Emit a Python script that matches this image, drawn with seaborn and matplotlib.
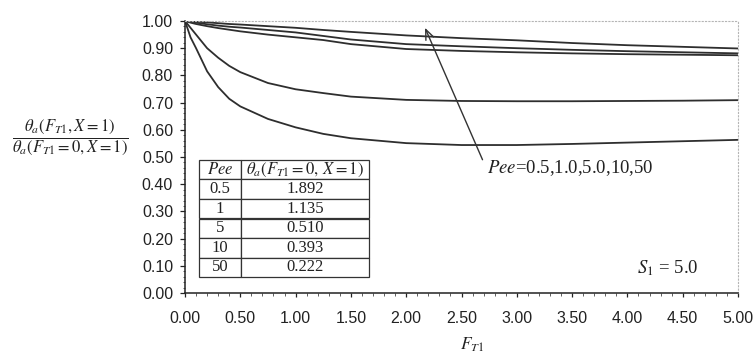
import numpy as np
import pandas as pd
import seaborn as sns
import matplotlib
matplotlib.use("Agg")
import matplotlib.pyplot as plt
from matplotlib.ticker import MultipleLocator, FormatStrFormatter

# Dimensionless time F_T1
fr = [0.0, 0.05, 0.1, 0.2, 0.3, 0.4, 0.5, 0.75, 1.0, 1.25, 1.5,
      2.0, 2.5, 3.0, 3.5, 4.0, 4.5, 5.0]

# Outlet temperature ratio theta_a(F_T1, X=1) / theta_a(F_T1=0, X=1)
ratio_pe_05 = [1.0, 0.94, 0.90, 0.815, 0.757, 0.714, 0.686, 0.640, 0.609,
               0.585, 0.569, 0.551, 0.544, 0.544, 0.548, 0.553, 0.558, 0.563]
ratio_pe_1 = [1.0, 0.975, 0.95, 0.90, 0.865, 0.835, 0.812, 0.772, 0.749,
              0.735, 0.722, 0.710, 0.706, 0.705, 0.705, 0.706, 0.707, 0.709]
ratio_pe_5 = [1.0, 0.994, 0.989, 0.981, 0.974, 0.968, 0.962, 0.950, 0.940,
              0.930, 0.915, 0.897, 0.890, 0.885, 0.881, 0.878, 0.876, 0.874]
ratio_pe_10 = [1.0, 0.997, 0.994, 0.988, 0.983, 0.979, 0.976, 0.967, 0.958,
               0.945, 0.932, 0.915, 0.907, 0.900, 0.894, 0.889, 0.885, 0.881]
ratio_pe_50 = [1.0, 0.999, 0.998, 0.995, 0.992, 0.989, 0.987, 0.981, 0.975,
               0.967, 0.960, 0.947, 0.937, 0.929, 0.919, 0.911, 0.905, 0.899]

pe_values = ["0.5", "1", "5", "10", "50"]
theta0_values = ["1.892", "1.135", "0.510", "0.393", "0.222"]

series = [ratio_pe_05, ratio_pe_1, ratio_pe_5, ratio_pe_10, ratio_pe_50]
df = pd.concat(
    [pd.DataFrame({"Fr": fr, "ratio": vals, "Pe": pe})
     for pe, vals in zip(pe_values, series)],
    ignore_index=True,
)

sns.set_theme(style="white")
plt.rcParams["font.family"] = ["Liberation Sans", "DejaVu Sans"]
plt.rcParams["mathtext.fontset"] = "stix"

W, H = 756, 359
fig = plt.figure(figsize=(W / 100, H / 100), dpi=100)
ax = fig.add_axes([185 / W, 1 - 293 / H, (738 - 185) / W, (293 - 21) / H])

line_color = "#2e2e2e"
sns.lineplot(data=df, x="Fr", y="ratio", hue="Pe", estimator=None,
             palette=[line_color] * len(pe_values), legend=False,
             linewidth=1.3, ax=ax)

ax.set_xlim(0, 5)
ax.set_ylim(0, 1)
ax.xaxis.set_major_locator(MultipleLocator(0.5))
ax.xaxis.set_minor_locator(MultipleLocator(0.1))
ax.yaxis.set_major_locator(MultipleLocator(0.1))
ax.yaxis.set_minor_locator(MultipleLocator(0.02))
ax.xaxis.set_major_formatter(FormatStrFormatter("%.2f"))
ax.yaxis.set_major_formatter(FormatStrFormatter("%.2f"))
ax.set_xlabel("")
ax.set_ylabel("")

for side in ("left", "bottom"):
    ax.spines[side].set_color("#222222")
    ax.spines[side].set_linewidth(1.1)
for side in ("top", "right"):
    ax.spines[side].set_color("#b5b5b5")
    ax.spines[side].set_linewidth(0.8)
    ax.spines[side].set_linestyle((0, (1, 2)))

ax.tick_params(axis="x", which="major", direction="out", length=3,
               width=0.9, pad=10, labelsize=11.5, colors="#222222",
               bottom=True)
ax.tick_params(axis="x", which="minor", direction="out", length=1.8,
               width=0.6, colors="#444444", bottom=True)
ax.tick_params(axis="y", which="major", direction="out", length=3.6,
               width=0.9, pad=5, labelsize=11.5, colors="#222222",
               left=True)
ax.tick_params(axis="y", which="minor", direction="out", length=1.8,
               width=0.6, colors="#444444", left=True)

# Axis titles
fig.text(70 / W, 1 - 137 / H,
         r"$\dfrac{\theta_a(F_{T1},X=1)}{\theta_a(F_{T1}=0,X=1)}$",
         ha="center", va="center", fontsize=12, color="#222222")
fig.text(472 / W, 1 - 345 / H, r"$F_{T1}$", ha="center", va="center",
         fontsize=12.5, color="#222222")

# Table of initial outlet temperatures
cell_text = [[r"$Pee$", r"$\theta_a(F_{T1}=0,\,X=1)$"]] + [
    [p, t] for p, t in zip(pe_values, theta0_values)
]
tbl = ax.table(cellText=cell_text, cellLoc="center",
               colWidths=[42, 128],
               bbox=[(199 - 185) / 553, (293 - 277) / 272,
                     (369 - 199) / 553, (277 - 160) / 272])
tbl.auto_set_font_size(False)
tbl.set_fontsize(12)
for cell in tbl.get_celld().values():
    cell.set_edgecolor("#333333")
    cell.set_linewidth(0.9)
    cell.set_facecolor("white")
    cell.get_text().set_fontfamily("Liberation Serif")
    cell.get_text().set_color("#222222")

# Parameter annotation with arrow
ax.annotate("", xy=(2.17, 0.975), xytext=(2.69, 0.49),
            arrowprops=dict(arrowstyle="->,head_length=0.6,head_width=0.25",
                            color="#333333", lw=1.0, shrinkA=0, shrinkB=0))
ax.text(2.73, 0.46, r"$Pee$=0.5,1.0,5.0,10,50", ha="left", va="center",
        fontsize=13.5, family="Liberation Serif", color="#222222")
ax.text(4.09, 0.092, r"$S_1$ = 5.0", ha="left", va="center",
        fontsize=13.5, family="Liberation Serif", color="#222222")

fig.savefig("out.png", dpi=100)
